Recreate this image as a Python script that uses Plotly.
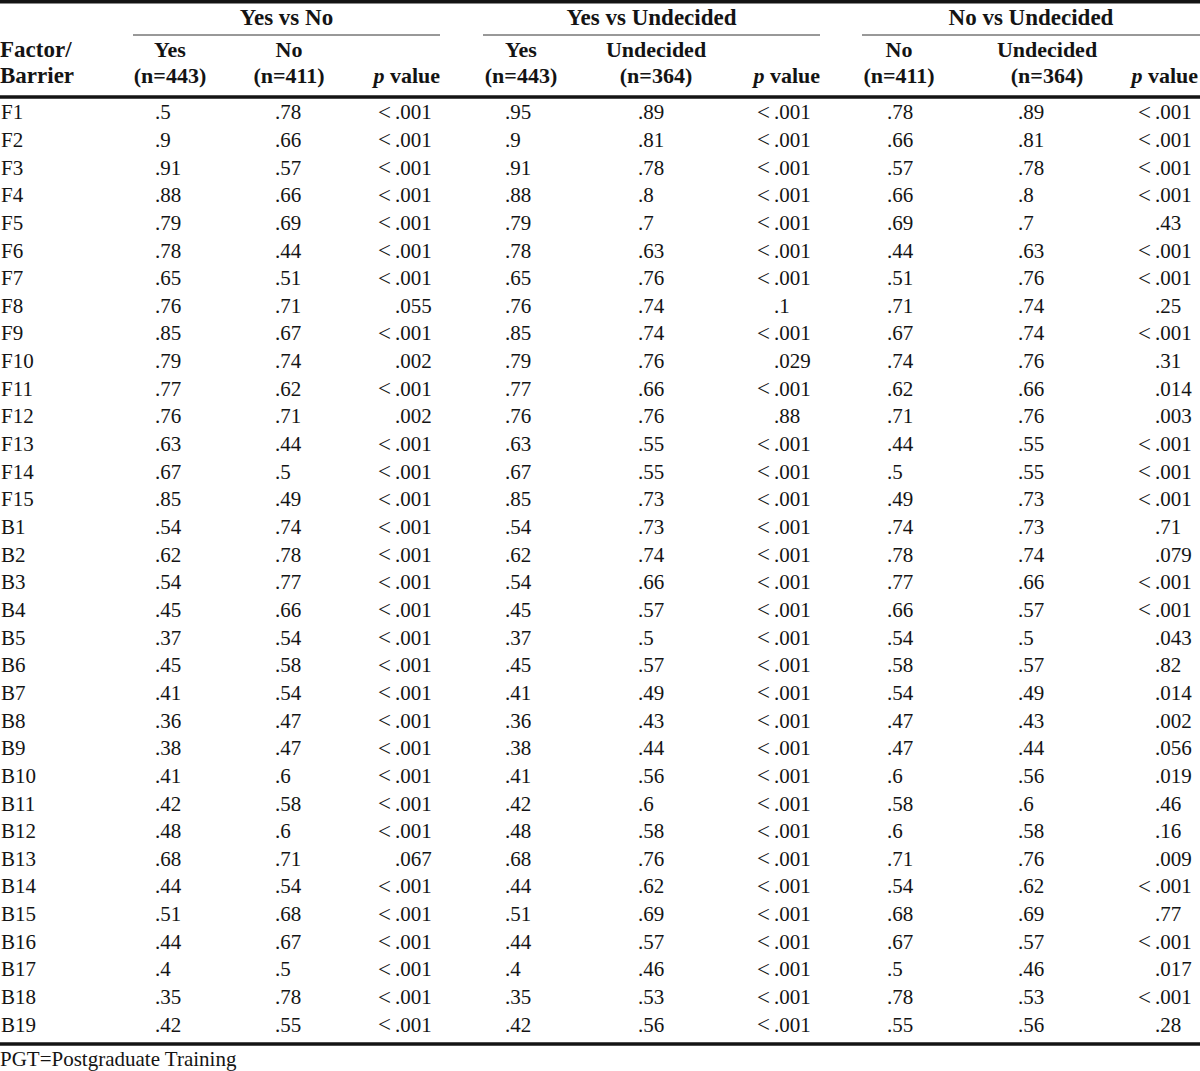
import plotly.graph_objects as go

# ---------------- data ----------------
row_labels = ["F1", "F2", "F3", "F4", "F5", "F6", "F7", "F8", "F9", "F10", "F11", "F12", "F13", "F14", "F15",
              "B1", "B2", "B3", "B4", "B5", "B6", "B7", "B8", "B9", "B10", "B11", "B12", "B13", "B14", "B15",
              "B16", "B17", "B18", "B19"]

group_titles = ["Yes vs No", "Yes vs Undecided", "No vs Undecided"]
col_head_top = ["Yes", "No", "", "Yes", "Undecided", "", "No", "Undecided", ""]
col_head_bot = ["(n=443)", "(n=411)", "p value", "(n=443)", "(n=364)", "p value", "(n=411)", "(n=364)", "p value"]
stub_head = ["Factor/", "Barrier"]
footnote = "PGT=Postgraduate Training"

yn_yes = [".5", ".9", ".91", ".88", ".79", ".78", ".65", ".76", ".85", ".79", ".77", ".76", ".63", ".67", ".85",
          ".54", ".62", ".54", ".45", ".37", ".45", ".41", ".36", ".38", ".41", ".42", ".48", ".68", ".44", ".51",
          ".44", ".4", ".35", ".42"]
yn_no = [".78", ".66", ".57", ".66", ".69", ".44", ".51", ".71", ".67", ".74", ".62", ".71", ".44", ".5", ".49",
         ".74", ".78", ".77", ".66", ".54", ".58", ".54", ".47", ".47", ".6", ".58", ".6", ".71", ".54", ".68",
         ".67", ".5", ".78", ".55"]
yn_p = ["<.001", "<.001", "<.001", "<.001", "<.001", "<.001", "<.001", ".055", "<.001", ".002", "<.001", ".002",
        "<.001", "<.001", "<.001", "<.001", "<.001", "<.001", "<.001", "<.001", "<.001", "<.001", "<.001", "<.001",
        "<.001", "<.001", "<.001", ".067", "<.001", "<.001", "<.001", "<.001", "<.001", "<.001"]

yu_yes = [".95", ".9", ".91", ".88", ".79", ".78", ".65", ".76", ".85", ".79", ".77", ".76", ".63", ".67", ".85",
          ".54", ".62", ".54", ".45", ".37", ".45", ".41", ".36", ".38", ".41", ".42", ".48", ".68", ".44", ".51",
          ".44", ".4", ".35", ".42"]
yu_und = [".89", ".81", ".78", ".8", ".7", ".63", ".76", ".74", ".74", ".76", ".66", ".76", ".55", ".55", ".73",
          ".73", ".74", ".66", ".57", ".5", ".57", ".49", ".43", ".44", ".56", ".6", ".58", ".76", ".62", ".69",
          ".57", ".46", ".53", ".56"]
yu_p = ["<.001", "<.001", "<.001", "<.001", "<.001", "<.001", "<.001", ".1", "<.001", ".029", "<.001", ".88",
        "<.001", "<.001", "<.001", "<.001", "<.001", "<.001", "<.001", "<.001", "<.001", "<.001", "<.001", "<.001",
        "<.001", "<.001", "<.001", "<.001", "<.001", "<.001", "<.001", "<.001", "<.001", "<.001"]

nu_no = [".78", ".66", ".57", ".66", ".69", ".44", ".51", ".71", ".67", ".74", ".62", ".71", ".44", ".5", ".49",
         ".74", ".78", ".77", ".66", ".54", ".58", ".54", ".47", ".47", ".6", ".58", ".6", ".71", ".54", ".68",
         ".67", ".5", ".78", ".55"]
nu_und = [".89", ".81", ".78", ".8", ".7", ".63", ".76", ".74", ".74", ".76", ".66", ".76", ".55", ".55", ".73",
          ".73", ".74", ".66", ".57", ".5", ".57", ".49", ".43", ".44", ".56", ".6", ".58", ".76", ".62", ".69",
          ".57", ".46", ".53", ".56"]
nu_p = ["<.001", "<.001", "<.001", "<.001", ".43", "<.001", "<.001", ".25", "<.001", ".31", ".014", ".003",
        "<.001", "<.001", "<.001", ".71", ".079", "<.001", "<.001", ".043", ".82", ".014", ".002", ".056",
        ".019", ".46", ".16", ".009", "<.001", ".77", "<.001", ".017", "<.001", ".28"]

# ---------------- layout / style ----------------
W, H = 1200, 1071
FONT = "Liberation Serif, Times New Roman, serif"
INK = "#141414"
BODY_SIZE = 21
HEAD_SIZE = 22
TITLE_SIZE = 23

ROW0_Y = 114
ROW_H = 27.65
HEAD1_Y = 51.5
HEAD2_Y = 77.5
GROUP_Y = 19.5

value_cols = [  # (values, left x)
    (yn_yes, 155), (yn_no, 275),
    (yu_yes, 505), (yu_und, 638),
    (nu_no, 887), (nu_und, 1018),
]
p_cols = [(yn_p, 395), (yu_p, 774), (nu_p, 1155)]
head_centers = [170, 289, None, 521, 656, None, 899, 1047, None]
p_head_right = [440, 820, 1198]
group_spans = [(133, 440), (483, 820), (862, 1200)]

row_y = [ROW0_Y + i * ROW_H for i in range(len(row_labels))]

fig = go.Figure()


def text_trace(xs, ys, texts, pos, size=BODY_SIZE, bold=False):
    fig.add_trace(go.Scatter(
        x=xs, y=ys, text=texts, mode="text", textposition=pos,
        textfont=dict(family=FONT, size=size, color=INK, weight="bold" if bold else "normal"),
        hoverinfo="skip", showlegend=False,
    ))


# stub column
text_trace([1] * len(row_labels), row_y, row_labels, "middle right")

# value columns
for vals, x in value_cols:
    text_trace([x] * len(vals), row_y, vals, "middle right")

# p value columns (decimal aligned)
for vals, x in p_cols:
    prefix = ["&lt;" if v.startswith("<") else "" for v in vals]
    rest = [v.lstrip("<") for v in vals]
    text_trace([x] * len(vals), row_y, rest, "middle right")
    text_trace([x - 4] * len(vals), row_y, prefix, "middle left", size=23)

# headers
text_trace([0, 0], [HEAD1_Y, HEAD2_Y], stub_head, "middle right", size=TITLE_SIZE, bold=True)
for (x0, x1), title in zip(group_spans, group_titles):
    text_trace([(x0 + x1) / 2], [GROUP_Y], [title], "middle center", size=TITLE_SIZE, bold=True)
for i, cx in enumerate(head_centers):
    if cx is None:
        continue
    text_trace([cx, cx], [HEAD1_Y, HEAD2_Y], [col_head_top[i], col_head_bot[i]], "middle center",
               size=HEAD_SIZE, bold=True)
for g, xr in enumerate(p_head_right):
    lbl = col_head_bot[g * 3 + 2].replace("p ", "<i>p</i> ", 1)
    text_trace([xr], [HEAD2_Y], [lbl], "middle left", size=HEAD_SIZE, bold=True)

# footnote
text_trace([0], [1061], [footnote], "middle right")

# rules
shapes = []
for y, w in [(1.8, 3.5), (97, 3.5), (1044, 3.5)]:
    shapes.append(dict(type="line", xref="x", yref="y", x0=0, x1=W, y0=y, y1=y,
                       line=dict(color=INK, width=w)))
for x0, x1 in group_spans:
    shapes.append(dict(type="line", xref="x", yref="y", x0=x0, x1=x1, y0=35, y1=35,
                       line=dict(color="#333333", width=1)))

fig.update_layout(
    width=W, height=H,
    margin=dict(l=0, r=0, t=0, b=0),
    paper_bgcolor="white", plot_bgcolor="white",
    xaxis=dict(range=[0, W], visible=False, fixedrange=True),
    yaxis=dict(range=[H, 0], visible=False, fixedrange=True),
    shapes=shapes,
    showlegend=False,
    hovermode=False,
)

fig.write_html(
    "out.html",
    config={"displayModeBar": False, "staticPlot": True},
    post_script="document.body.style.margin='0';document.body.style.padding='0';"
                "document.documentElement.style.overflow='hidden';",
)
